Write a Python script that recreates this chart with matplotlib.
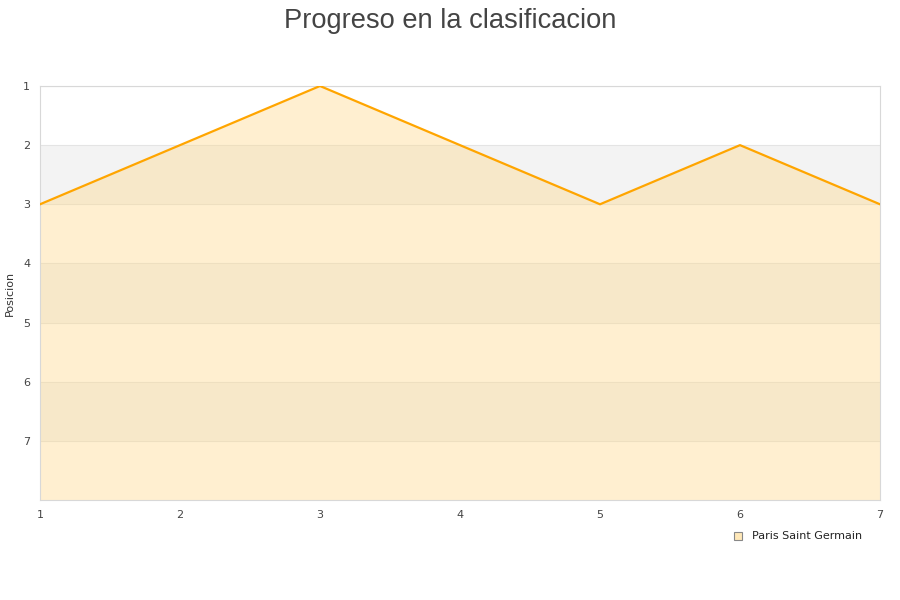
import matplotlib
matplotlib.use('Agg')
from matplotlib import pyplot as plt

jornadas = [1, 2, 3, 4, 5, 6, 7]
posicion = [3, 2, 1, 2, 3, 2, 3]
equipo = 'Paris Saint Germain'
y_ticks = [1, 2, 3, 4, 5, 6, 7]

fig = plt.figure(figsize=(9, 6), dpi=100)
ax = fig.add_axes([40 / 900, 100 / 600, 840 / 900, 414 / 600])

# alternating bands
for lo in (2, 4, 6):
    ax.axhspan(lo, lo + 1, color='#f3f3f3', zorder=0, lw=0)
for y in y_ticks:
    ax.axhline(y, color='#e4e4e4', lw=0.8, zorder=1)

ax.fill_between(jornadas, posicion, 8, color='#ffd98a', alpha=0.4, lw=0, zorder=2)
ax.plot(jornadas, posicion, color='#ffa500', lw=1.6, zorder=3)

ax.set_xlim(1, 7)
ax.set_ylim(8, 1)
ax.set_yticks(y_ticks)
ax.set_xticks(jornadas)
ax.tick_params(length=0, labelsize=8, colors='#444444')
ax.tick_params(axis='x', pad=7)
ax.tick_params(axis='y', pad=7)
for s in ax.spines.values():
    s.set_color('#d8d8d8')
ax.set_ylabel('Posicion', fontsize=8, color='#333333', labelpad=6)

fig.text(0.5, 0.987, 'Progreso en la clasificacion', ha='center', va='top',
         fontsize=19.6, color='#444444', family='Liberation Sans')

fig.patches.append(plt.Rectangle((734 / 900, 1 - 540 / 600), 8 / 900, 8 / 600,
                                 transform=fig.transFigure, facecolor='#ffe8b8',
                                 edgecolor='#888888', lw=0.8))
fig.text(752 / 900, 1 - 536 / 600, equipo, fontsize=8, va='center', color='#222222')

fig.savefig('out.png', dpi=100)
